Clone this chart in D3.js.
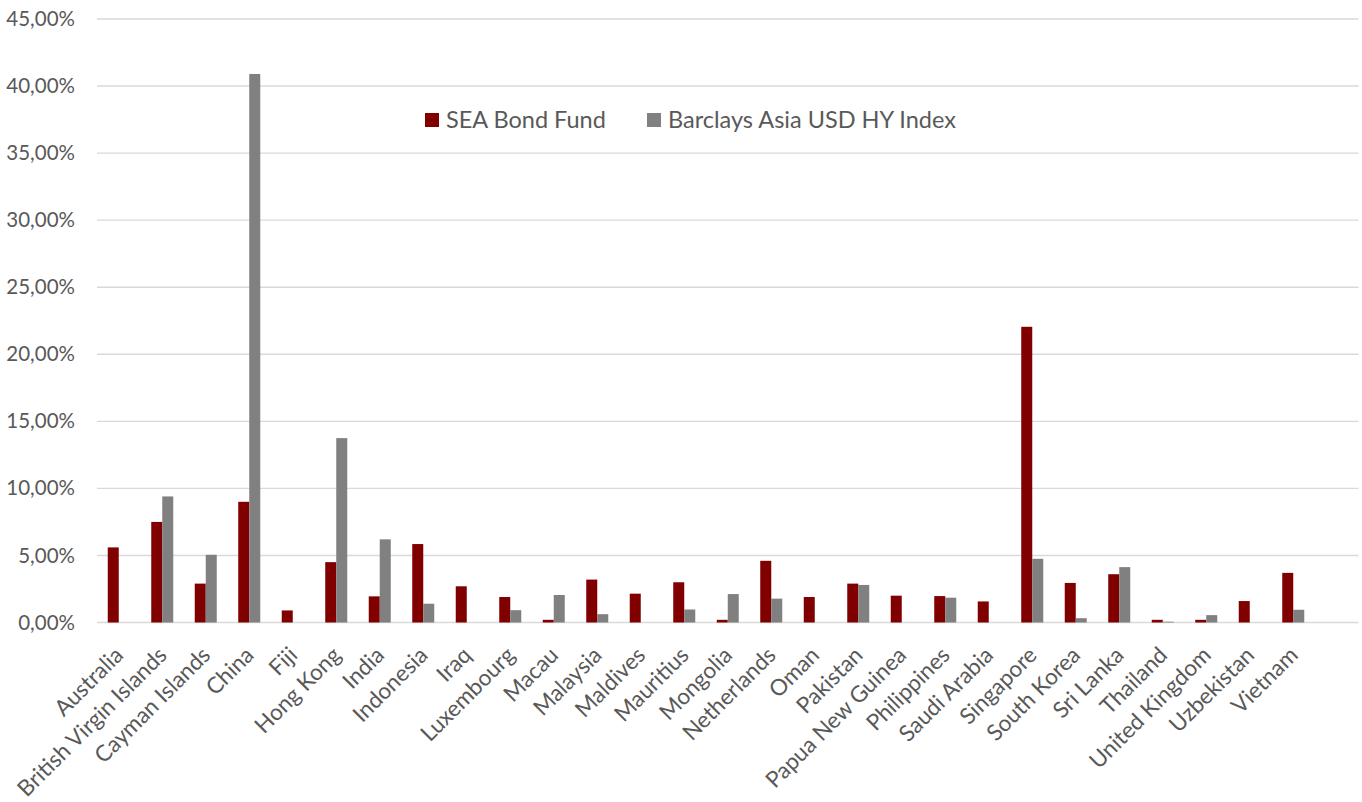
<!DOCTYPE html>
<html>
<head>
<meta charset="utf-8">
<script src="https://cdn.jsdelivr.net/npm/d3@7"></script>
<style>
    body { margin: 0; background: #fff; }
    #chart { width: 1362px; height: 802px; }
    text { font-family: Lato, "Open Sans", sans-serif; fill: #595959; }
</style>
</head>
<body>
<div id="chart"></div>
<script>

// chart values (percent)
let countries = ["Australia", "British Virgin Islands", "Cayman Islands", "China", "Fiji", "Hong Kong",
    "India", "Indonesia", "Iraq", "Luxembourg", "Macau", "Malaysia", "Maldives", "Mauritius", "Mongolia",
    "Netherlands", "Oman", "Pakistan", "Papua New Guinea", "Philippines", "Saudi Arabia", "Singapore",
    "South Korea", "Sri Lanka", "Thailand", "United Kingdom", "Uzbekistan", "Vietnam"];

let seaFund = [5.6, 7.5, 2.9, 9.0, 0.9, 4.5, 1.95, 5.85, 2.7, 1.9, 0.2, 3.2, 2.15, 3.0, 0.2,
    4.6, 1.9, 2.9, 2.0, 1.97, 1.57, 22.05, 2.95, 3.6, 0.2, 0.2, 1.6, 3.7];

let barclays = [0, 9.4, 5.05, 40.9, 0, 13.75, 6.2, 1.4, 0, 0.92, 2.05, 0.62, 0, 0.97, 2.12,
    1.78, 0, 2.8, 0, 1.85, 0, 4.75, 0.32, 4.13, 0.06, 0.55, 0, 0.95];

let seriesNames = ["SEA Bond Fund", "Barclays Asia USD HY Index"];
let seriesColors = ["#800000", "#808080"];
let yTicks = [0, 5, 10, 15, 20, 25, 30, 35, 40, 45];

let margin = {top: 19, right: 3.5, bottom: 179.5, left: 97};
let width = 1362 - margin.left - margin.right;
let height = 802 - margin.top - margin.bottom;

let svg = d3.select("#chart").append("svg")
    .attr("width", 1362)
    .attr("height", 802)
    .append("g")
    .attr("transform", `translate(${margin.left}, ${margin.top})`);

// one empty slot at the right end, like the original
let slotWidth = width / (countries.length + 1);

let x = d3.scaleBand()
    .domain(countries)
    .range([0, slotWidth * countries.length])
    .paddingInner(0.494)
    .paddingOuter(0.247);

let xSeries = d3.scaleBand()
    .domain(seriesNames)
    .range([0, x.bandwidth()]);

let y = d3.scaleLinear()
    .domain([0, 45])
    .range([height, 0]);

// gridlines
svg.append("g")
    .selectAll("line")
    .data(yTicks)
    .enter().append("line")
    .attr("x1", 0)
    .attr("x2", width)
    .attr("y1", d => y(d))
    .attr("y2", d => y(d))
    .attr("stroke", "#d9d9d9")
    .attr("stroke-width", 1.4);

// y axis labels
let fmt = d => d.toFixed(2).replace(".", ",") + "%";
let yAxis = d3.axisLeft(y)
    .tickValues(yTicks)
    .tickFormat(fmt)
    .tickSize(0)
    .tickPadding(22);

svg.append("g")
    .attr("class", "y-axis")
    .call(yAxis)
    .call(g => g.select(".domain").remove())
    .selectAll("text")
    .style("font-size", "20.5px")
    .attr("fill", "#595959");

// bars
let rows = countries.map((c, i) => ({country: c, values: [seaFund[i], barclays[i]]}));

let groups = svg.append("g")
    .selectAll("g")
    .data(rows)
    .enter().append("g")
    .attr("transform", d => `translate(${x(d.country)}, 0)`);

groups.selectAll("rect")
    .data(d => d.values.map((v, j) => ({series: seriesNames[j], value: v, color: seriesColors[j]})))
    .enter().append("rect")
    .filter(d => d.value > 0)
    .attr("x", d => xSeries(d.series))
    .attr("width", xSeries.bandwidth())
    .attr("y", d => y(d.value))
    .attr("height", d => y(0) - y(d.value))
    .attr("fill", d => d.color);

// x axis labels
let xAxis = d3.axisBottom(x)
    .tickSize(0)
    .tickPadding(0);

svg.append("g")
    .attr("class", "x-axis")
    .attr("transform", `translate(0, ${height})`)
    .call(xAxis)
    .call(g => g.select(".domain").remove())
    .selectAll("text")
    .style("font-size", "22.5px")
    .attr("fill", "#595959")
    .attr("text-anchor", "end")
    .attr("dy", 0)
    .attr("transform", "translate(6, 34) rotate(-45)");

// legend
let legend = svg.append("g")
    .attr("transform", `translate(328, 94)`);

let legendX = [0, 222];

seriesNames.forEach((name, i) => {
    let item = legend.append("g")
        .attr("transform", `translate(${legendX[i]}, 0)`);
    item.append("rect")
        .attr("width", 14)
        .attr("height", 14)
        .attr("fill", seriesColors[i]);
    item.append("text")
        .attr("x", 21)
        .attr("y", 15)
        .style("font-size", "23.5px")
        .text(name);
});

</script>
</body>
</html>
